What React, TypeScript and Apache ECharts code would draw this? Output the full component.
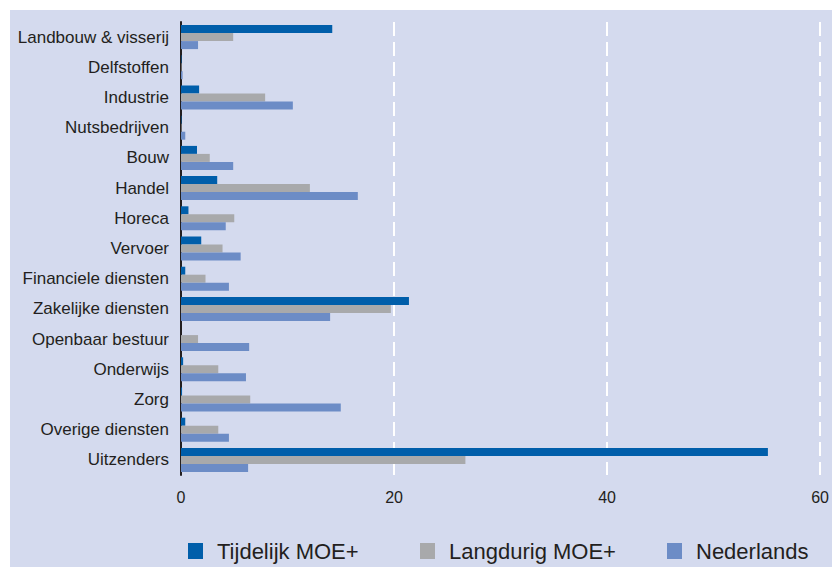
import React, { useEffect, useRef } from "react";
import * as echarts from "echarts";

const categories = [
  "Landbouw & visserij",
  "Delfstoffen",
  "Industrie",
  "Nutsbedrijven",
  "Bouw",
  "Handel",
  "Horeca",
  "Vervoer",
  "Financiele diensten",
  "Zakelijke diensten",
  "Openbaar bestuur",
  "Onderwijs",
  "Zorg",
  "Overige diensten",
  "Uitzenders",
];

const tijdelijk = [14.2, 0.05, 1.7, 0.05, 1.5, 3.4, 0.7, 1.9, 0.4, 21.4, 0, 0.2, 0.1, 0.4, 55.1];
const langdurig = [4.9, 0.05, 7.9, 0.05, 2.7, 12.1, 5.0, 3.9, 2.3, 19.7, 1.6, 3.5, 6.5, 3.5, 26.7];
const nederlands = [1.6, 0.15, 10.5, 0.4, 4.9, 16.6, 4.2, 5.6, 4.5, 14.0, 6.4, 6.1, 15.0, 4.5, 6.3];

const seriesNames = ["Tijdelijk MOE+", "Langdurig MOE+", "Nederlands"];
const seriesColors = ["#005EAA", "#A8A9AB", "#6C8CC6"];
const xTicks = [0, 20, 40, 60];

const FONT = "'Liberation Sans', Arial, sans-serif";
const TEXT = "#231F20";

export default function App() {
  const ref = useRef<HTMLDivElement>(null);
  useEffect(() => {
    if (!ref.current) return;
    const chart = echarts.init(ref.current, undefined, { renderer: "svg" });
    const data = [tijdelijk, langdurig, nederlands];
    const legendLefts = [188, 420, 667];
    chart.setOption({
      animation: false,
      backgroundColor: "#FFFFFF",
      graphic: [
        {
          type: "rect",
          z: -10,
          silent: true,
          shape: { x: 10, y: 10, width: 822, height: 557 },
          style: { fill: "#D4DAEE" },
        },
      ],
      grid: { left: 181, right: 8, top: 22, bottom: 92, containLabel: false },
      legend: seriesNames.map((n, i) => ({
        data: [n],
        left: legendLefts[i],
        top: 540,
        itemWidth: 15,
        itemHeight: 16,
        icon: "rect",
        padding: 0,
        textStyle: { fontSize: 22, color: TEXT, fontFamily: FONT, padding: [0, 0, 0, 9] },
      })),
      xAxis: {
        type: "value",
        min: xTicks[0],
        max: xTicks[xTicks.length - 1],
        interval: 20,
        axisLine: { show: false },
        axisTick: { show: false },
        axisLabel: { fontSize: 16, color: TEXT, fontFamily: FONT, margin: 14 },
        splitLine: {
          show: true,
          lineStyle: { color: "#FFFFFF", width: 2, type: [14, 6] },
        },
      },
      yAxis: {
        type: "category",
        data: categories,
        inverse: true,
        z: 1,
        axisLine: { show: true, lineStyle: { color: "#231F20", width: 2 } },
        axisTick: { show: false },
        axisLabel: { fontSize: 17, color: TEXT, fontFamily: FONT, margin: 12 },
        splitLine: { show: false },
      },
      series: seriesNames.map((n, i) => ({
        name: n,
        type: "bar",
        data: data[i],
        barWidth: 8,
        barGap: "0%",
        itemStyle: { color: seriesColors[i] },
      })),
    });
    return () => chart.dispose();
  }, []);
  return (
    <div
      ref={ref}
      style={{ position: "absolute", left: 0, top: 0, width: 832, height: 567 }}
    />
  );
}
